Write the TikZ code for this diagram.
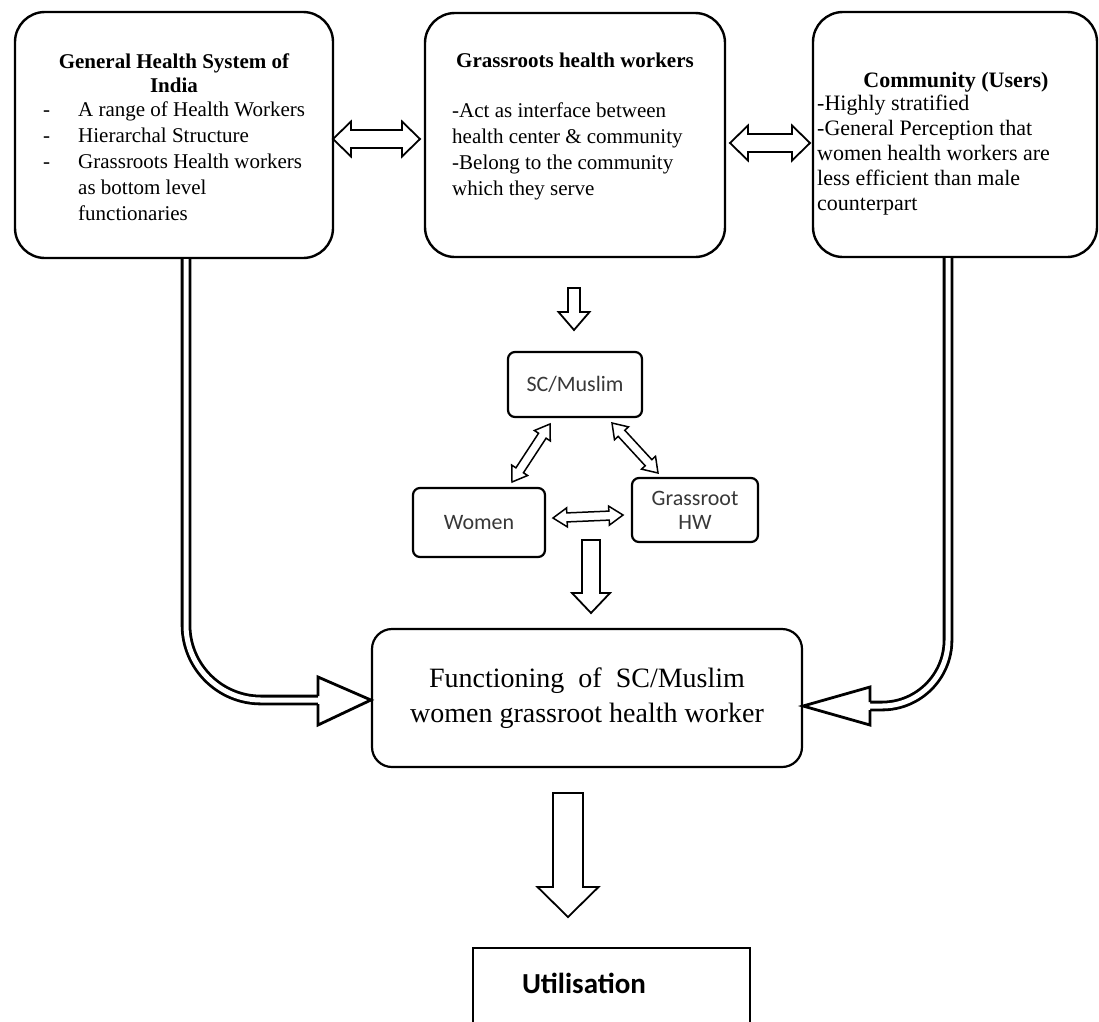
\documentclass[tikz,border=0pt]{standalone}
\usepackage{fontspec}
\setmainfont{Liberation Serif}
\newfontfamily\calfont{Carlito}
\usetikzlibrary{calc}
\tikzset{
  bigbox/.style={draw, line width=2.4pt, rounded corners=30pt, inner sep=0pt},
  midbox/.style={draw, line width=2.2pt, rounded corners=20pt, inner sep=0pt},
  smallbox/.style={draw, line width=2.2pt, rounded corners=7pt, inner sep=0pt, align=center,
    font=\calfont\fontsize{22}{24}\selectfont, text=black!78},
  blockarrow/.style={draw, line width=1.8pt, fill=white, line join=miter},
  thinblock/.style={draw, line width=1.5pt, fill=white, line join=miter},
  dblshaft/.style={draw, line width=2.8pt, double=white, double distance=5pt},
  headline/.style={draw, line width=2.8pt, line join=miter, fill=white},
  bodytext/.style={inner sep=0pt, align=left, font=\fontsize{21}{26}\selectfont},
  titletext/.style={inner sep=0pt, align=center, font=\bfseries\fontsize{21}{24}\selectfont},
}
% double-headed block arrow: #1 tip A, #2 tip B, #3 shaft half width, #4 head half width, #5 head length, #6 style
\newcommand{\blkdouble}[6]{%
  \coordinate (qa) at ($(#1)!#5!(#2)$);
  \coordinate (qb) at ($(#2)!#5!(#1)$);
  \path[#6] (#1) -- ($(qa)!#4!90:(#2)$) -- ($(qa)!#3!90:(#2)$) -- ($(qb)!#3!90:(#2)$)
    -- ($(qb)!#4!90:(#2)$) -- (#2) -- ($(qb)!#4!-90:(#2)$) -- ($(qb)!#3!-90:(#2)$)
    -- ($(qa)!#3!-90:(#2)$) -- ($(qa)!#4!-90:(#2)$) -- cycle;
}
% single-headed block arrow: #1 tail, #2 tip, #3 shaft half, #4 head half, #5 head length, #6 style
\newcommand{\blksingle}[6]{%
  \coordinate (qb) at ($(#2)!#5!(#1)$);
  \path[#6] ($(#1)!#3!90:(#2)$) -- ($(qb)!#3!90:(#2)$) -- ($(qb)!#4!90:(#2)$) -- (#2)
    -- ($(qb)!#4!-90:(#2)$) -- ($(qb)!#3!-90:(#2)$) -- ($(#1)!#3!-90:(#2)$) -- cycle;
}
\begin{document}
\begin{tikzpicture}[x=1pt, y=-1pt]
\useasboundingbox (0,0) rectangle (1099,1021);
\fill[white] (0,0) rectangle (1099,1021);

% ---------- top boxes ----------
\node[bigbox, minimum width=318pt, minimum height=246pt] (gen) at (174,135) {};
\node[bigbox, minimum width=300pt, minimum height=244pt] (grs) at (575,135) {};
\node[bigbox, minimum width=284pt, minimum height=245pt] (com) at (955,134.5) {};

\node[titletext, anchor=north] (gent) at (174,54) {General Health System of\\India};
\node[bodytext, anchor=north west] (genb) at (43,102)
  {\makebox[35pt][l]{-}A range of Health Workers\\
   \makebox[35pt][l]{-}Hierarchal Structure\\
   \makebox[35pt][l]{-}Grassroots Health workers\\
   \hspace*{35pt}as bottom level\\
   \hspace*{35pt}functionaries};

\node[titletext, anchor=north] (grst) at (575,53) {Grassroots health workers};
\node[bodytext, anchor=north west] (grsb) at (452,103)
  {-Act as interface between\\health center \& community\\-Belong to the community\\which they serve};

\node[titletext, anchor=north, font=\bfseries\fontsize{22}{25}\selectfont] (comt) at (956,72) {Community (Users)};
\node[bodytext, anchor=north west, font=\fontsize{22}{25}\selectfont] (comb) at (817,95)
  {-Highly stratified\\-General Perception that\\women health workers are\\less efficient than male\\counterpart};

% ---------- middle triangle ----------
\node[smallbox, minimum width=134pt, minimum height=65pt] (sc) at (575,384.5) {SC/Muslim};
\node[smallbox, minimum width=132pt, minimum height=69pt] (wom) at (479,522.5) {Women};
\node[smallbox, minimum width=126pt, minimum height=64pt] (hw) at (695,510) {Grassroot\\HW};

% ---------- functioning box ----------
\node[midbox, minimum width=430pt, minimum height=138pt, align=center,
      font=\fontsize{28}{35}\selectfont] (func) at (587,698)
  {Functioning\ \ of\ \ SC/Muslim\\women grassroot health worker};

% ---------- utilisation box (cut off at the bottom) ----------
\node[draw, line width=1.6pt, minimum width=277pt, minimum height=120pt, anchor=north, inner sep=0pt] (util) at (611.5,947) {};
\node[inner sep=0pt, font=\calfont\bfseries\fontsize{29}{32}\selectfont] (utilt) at (584,983) {Utilisation};

% ---------- block arrows ----------
\coordinate (h1a) at (333,139);
\coordinate (h1b) at (420,139);
\blkdouble{h1a}{h1b}{9pt}{17.5pt}{18pt}{blockarrow}
\coordinate (h2a) at (730,143);
\coordinate (h2b) at (810,143);
\blkdouble{h2a}{h2b}{9pt}{17.5pt}{18pt}{blockarrow}

\coordinate (d1a) at (574,288);
\coordinate (d1b) at (574,330);
\blksingle{d1a}{d1b}{6pt}{15.5pt}{18pt}{blockarrow}

\coordinate (t1a) at (512,482);
\coordinate (t1b) at (550,424);
\blkdouble{t1a}{t1b}{4.5pt}{9.5pt}{14pt}{thinblock}
\coordinate (t2a) at (612,423);
\coordinate (t2b) at (658,473);
\blkdouble{t2a}{t2b}{4.5pt}{9.5pt}{14pt}{thinblock}
\coordinate (t3a) at (553,518);
\coordinate (t3b) at (623,515);
\blkdouble{t3a}{t3b}{4.5pt}{9.5pt}{14pt}{thinblock}

\coordinate (d2a) at (591,540);
\coordinate (d2b) at (591,613);
\blksingle{d2a}{d2b}{9pt}{19pt}{20pt}{blockarrow}

\coordinate (d3a) at (568,793);
\coordinate (d3b) at (568,917);
\blksingle{d3a}{d3b}{15pt}{30.5pt}{30pt}{blockarrow}

% ---------- double-line connectors ----------
\coordinate (lhb) at (318,700);
\draw[dblshaft, rounded corners=75pt] ($(gen.south)+(12,0)$) |- (lhb);
\draw[headline] ($(lhb)+(0,-4)$) -- ($(lhb)+(0,-23)$) -- (func.west |- lhb) -- ($(lhb)+(0,25)$) -- ($(lhb)+(0,4)$);

\coordinate (rhb) at (870,706);
\draw[dblshaft, rounded corners=66pt] ($(com.south)+(-7,0)$) |- (rhb);
\draw[headline] ($(rhb)+(0,-4)$) -- ($(rhb)+(0,-19)$) -- (func.east |- rhb) -- ($(rhb)+(0,19)$) -- ($(rhb)+(0,4)$);
\end{tikzpicture}
\end{document}
